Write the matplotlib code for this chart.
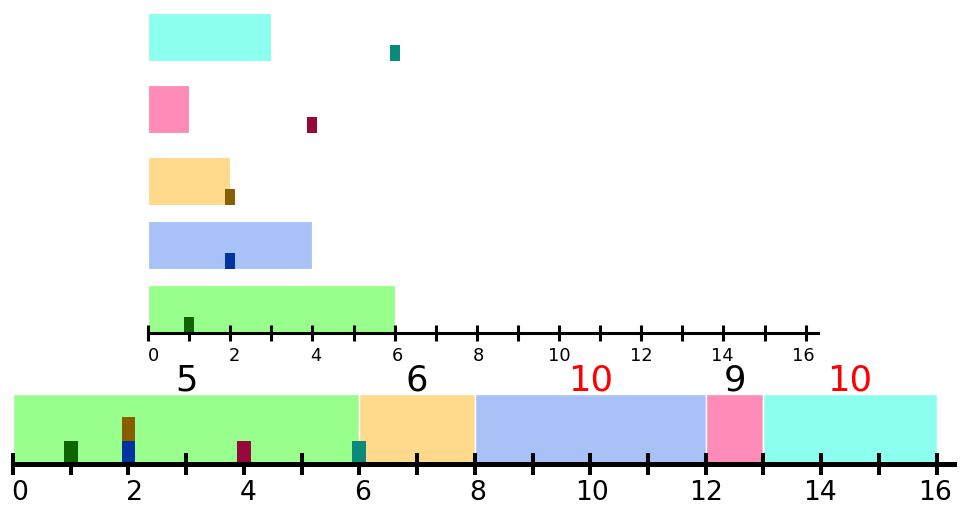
import matplotlib
matplotlib.use("Agg")
import matplotlib.pyplot as plt
from matplotlib.ticker import MultipleLocator
from matplotlib.transforms import ScaledTranslation

# ---- data ----
tasks = ["green", "blue", "yellow", "pink", "cyan"]          # bottom -> top in upper panel
durations = [6, 4, 2, 1, 3]
arrivals = [1, 2, 2, 4, 6]
light_colors = ["#99ff8c", "#a8c2f8", "#ffda8c", "#ff8cb8", "#8cffee"]
dark_colors = ["#0f6400", "#0032a0", "#875f00", "#96083c", "#0a8a78"]
schedule_order = [0, 2, 1, 3, 4]                              # execution order (task index)
response_labels = [5, 6, 10, 9, 10]                           # per scheduled segment
response_late = [False, False, True, False, True]
top_ticks = list(range(0, 17, 2))

fig = plt.figure(figsize=(9.72, 5.06), dpi=100)


def shift_labels(ax, start_px, end_px):
    labels = ax.get_xticklabels()
    n = len(labels)
    for i, lab in enumerate(labels):
        dx = start_px + (end_px - start_px) * i / (n - 1)
        lab.set_transform(lab.get_transform() +
                          ScaledTranslation(dx / 100, 0, fig.dpi_scale_trans))


# ---- top panel ----
bar_h = 0.75
row_gap = [0, 0, 0, 0.12, 0.13]
rows = []
acc = 0
for i in range(len(tasks)):
    acc += row_gap[i]
    rows.append(i + acc)

ax1 = fig.add_axes([148 / 972, 1 - 334 / 506, 670 / 972, 320 / 506])
ax1.barh(rows, durations, height=bar_h, left=0, color=light_colors,
         edgecolor="white", linewidth=0.8, zorder=1)
mw = 0.24
for r, a, c in zip(rows, arrivals, dark_colors):
    ax1.bar(a, bar_h / 3, width=mw, bottom=r - bar_h / 2, color=c,
            edgecolor="none", zorder=2)
ax1.set_xlim(0, 16.3)
ax1.set_ylim(rows[0] - bar_h / 2, rows[-1] + bar_h / 2)
for s in ["left", "top", "right"]:
    ax1.spines[s].set_visible(False)
ax1.spines["bottom"].set_linewidth(2.2)
ax1.set_yticks([])
ax1.set_xticks(top_ticks)
ax1.set_xticklabels([str(t) for t in top_ticks])
ax1.xaxis.set_minor_locator(MultipleLocator(1))
ax1.tick_params(axis="x", which="both", direction="inout", length=11, width=2.2,
                labelsize=12.8, pad=4)
ax1.patch.set_alpha(0)
shift_labels(ax1, 5, -2)

# ---- bottom panel (timeline) ----
ax2 = fig.add_axes([13 / 972, 1 - 465 / 506, 941 / 972, 70 / 506])
t = 0
for k, idx in enumerate(schedule_order):
    d = durations[idx]
    ax2.bar(t, 1, width=d, align="edge", color=light_colors[idx],
            edgecolor="white", linewidth=1.0, zorder=1)
    ax2.annotate(str(response_labels[k]), xy=(t + d / 2, 1), xytext=(0, 3),
                 textcoords="offset points", ha="center", va="baseline",
                 fontsize=25.5, color="red" if response_late[k] else "black",
                 annotation_clip=False)
    t += d

seen = {}
for idx in range(len(tasks)):
    a = arrivals[idx]
    lvl = seen.get(a, 0)
    seen[a] = lvl + 1
    ax2.bar(a, 1 / 3, width=mw, bottom=lvl / 3, color=dark_colors[idx],
            edgecolor="none", zorder=2)

ax2.set_xlim(0, 16.3)
ax2.set_ylim(0, 1)
for s in ["left", "top", "right"]:
    ax2.spines[s].set_visible(False)
ax2.spines["bottom"].set_linewidth(3.6)
ax2.spines["bottom"].set_zorder(3)
ax2.set_yticks([])
ax2.set_xticks(top_ticks)
ax2.set_xticklabels([str(t) for t in top_ticks])
ax2.xaxis.set_minor_locator(MultipleLocator(1))
ax2.tick_params(axis="x", which="both", direction="inout", length=16.5, width=2.9,
                labelsize=19.2, pad=2.5)
ax2.patch.set_alpha(0)
shift_labels(ax2, 7, -2)

fig.savefig("out.png", dpi=100)
